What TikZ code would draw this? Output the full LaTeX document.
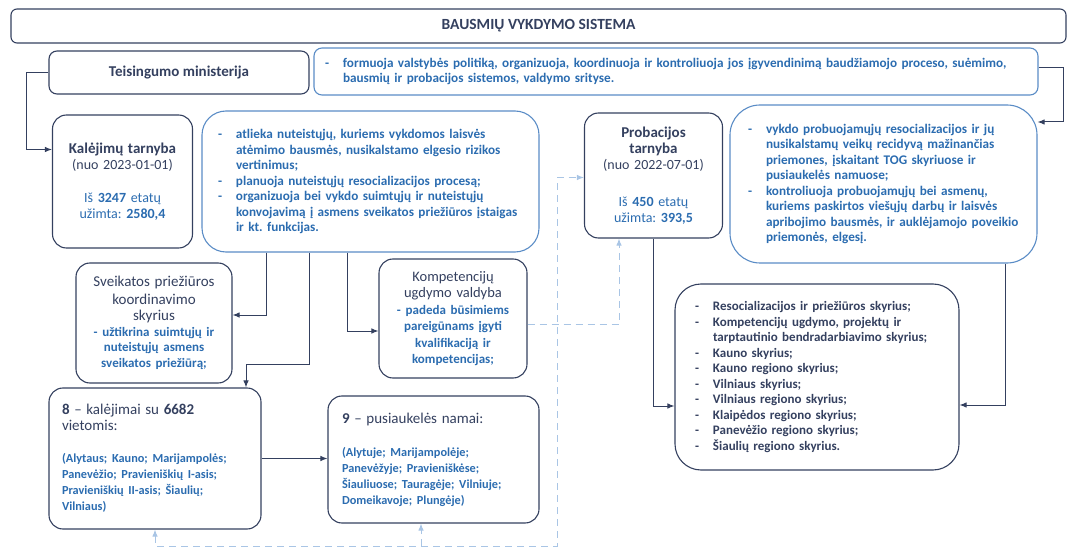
\documentclass[tikz,border=0pt]{standalone}
\usepackage{fontspec}
\setmainfont{Carlito}
\usetikzlibrary{arrows.meta}
\definecolor{navy}{HTML}{34405F}
\definecolor{txtblue}{HTML}{2B6CB0}
\definecolor{bdblue}{HTML}{5A8CC6}
\definecolor{dashblue}{HTML}{A9C5E5}
\newcommand{\dsh}{\makebox[18pt][l]{-}}
\newcommand{\ind}{\hspace*{18pt}}

\begin{document}
\frenchspacing
\begin{tikzpicture}[x=1pt, y=-1pt,
    orgbox/.style={draw=navy, line width=1.1pt, rounded corners=14pt, text=navy,
        align=center, inner sep=0pt, font=\fontsize{14}{16}\selectfont},
    descbox/.style={draw=bdblue, line width=1.1pt, rounded corners=24pt, text=txtblue,
        align=left, inner sep=0pt, font=\bfseries\fontsize{13.2}{15.5}\selectfont},
    link/.style={draw=navy, line width=1pt, -{Latex[length=7pt,width=5.5pt]}},
    dlink/.style={draw=dashblue, line width=1pt, dash pattern=on 7pt off 5pt,
        -{Latex[length=7pt,width=5.5pt]}}]
    \useasboundingbox (0,0) rectangle (1071,548);

    \node[orgbox, minimum width=1055pt, minimum height=34pt, rounded corners=6pt,
        font=\bfseries\fontsize{15.5}{17}\selectfont] (title) at (538.5,26) {BAUSMIŲ VYKDYMO SISTEMA};
    \node[orgbox, minimum width=260pt, minimum height=43pt, rounded corners=8pt,
        font=\bfseries\fontsize{15}{17}\selectfont] (minist) at (179,72.5) {Teisingumo ministerija};
    \node[descbox, rounded corners=8pt, inner xsep=11pt, text width=702pt, minimum height=47pt]
        (mindesc) at (676,71.5)
        {\dsh formuoja valstybės politiką, organizuoja, koordinuoja ir kontroliuoja jos įgyvendinimą baudžiamojo proceso, suėmimo,\\
         \ind bausmių ir probacijos sistemos, valdymo srityse.};

    \node[orgbox, text width=140pt, minimum height=133pt] (kal) at (122.5,181.5)
        {{\bfseries\fontsize{15}{16}\selectfont Kalėjimų tarnyba}\\
         (nuo 2023-01-01)\\[17pt]
         {\color{txtblue}Iš \textbf{3247} etatų\\užimta: \textbf{2580,4}}};
    \node[descbox, inner xsep=16pt, text width=305pt, minimum height=141pt] (kaldesc) at (370.5,181.5)
        {\dsh atlieka nuteistųjų, kuriems vykdomos laisvės\\
         \ind atėmimo bausmės, nusikalstamo elgesio rizikos\\
         \ind vertinimus;\\
         \dsh planuoja nuteistųjų resocializacijos procesą;\\
         \dsh organizuoja bei vykdo suimtųjų ir nuteistųjų\\
         \ind konvojavimą į asmens sveikatos priežiūros įstaigas\\
         \ind ir kt. funkcijas.};

    \node[orgbox, text width=138pt, minimum height=125pt] (prob) at (653.5,175.5)
        {{\bfseries\fontsize{15}{19}\selectfont Probacijos\\tarnyba}\\
         (nuo 2022-07-01)\\[21pt]
         {\color{txtblue}Iš \textbf{450} etatų\\užimta: \textbf{393,5}}};
    \node[descbox, rounded corners=30pt, inner xsep=18pt, text width=271pt, minimum height=158pt]
        (probdesc) at (883.5,184)
        {\dsh vykdo probuojamųjų resocializacijos ir jų\\
         \ind nusikalstamų veikų recidyvą mažinančias\\
         \ind priemones, įskaitant TOG skyriuose ir\\
         \ind pusiaukelės namuose;\\
         \dsh kontroliuoja probuojamųjų bei asmenų,\\
         \ind kuriems paskirtos viešųjų darbų ir laisvės\\
         \ind apribojimo bausmės, ir auklėjamojo poveikio\\
         \ind priemonės, elgesį.};

    \node[orgbox, text width=156pt, minimum height=120pt] (sveik) at (154,323)
        {{\fontsize{15}{18}\selectfont Sveikatos priežiūros\\koordinavimo\\skyrius}\\
         {\color{txtblue}\bfseries\fontsize{13}{15.5}\selectfont - užtikrina suimtųjų ir\\nuteistųjų asmens\\sveikatos priežiūrą;}};
    \node[orgbox, text width=148pt, minimum height=119pt] (komp) at (453,318.5)
        {{\fontsize{14.5}{17.5}\selectfont Kompetencijų\\ugdymo valdyba}\\
         {\color{txtblue}\bfseries\fontsize{13}{16.5}\selectfont - padeda būsimiems\\pareigūnams įgyti\\kvalifikaciją ir\\kompetencijas;}};

    \node[orgbox, align=left, inner xsep=13pt, text width=186pt, minimum height=141pt] (eight) at (155,458.5)
        {{\fontsize{15}{18}\selectfont\textbf{8} – kalėjimai su \textbf{6682}\\vietomis:}\\[16pt]
         {\color{txtblue}\bfseries\fontsize{12.3}{16}\selectfont (Alytaus; Kauno; Marijampolės;\\
         Panevėžio; Pravieniškių I-asis;\\Pravieniškių II-asis; Šiaulių;\\Vilniaus)}};
    \node[orgbox, align=left, inner xsep=14pt, text width=183pt, minimum height=127pt] (nine) at (433.5,459.5)
        {{\fontsize{15}{18}\selectfont\textbf{9} – pusiaukelės namai:}\\[17pt]
         {\color{txtblue}\bfseries\fontsize{12.3}{16}\selectfont (Alytuje; Marijampolėje;\\
         Panevėžyje; Pravieniškėse;\\Šiauliuose; Tauragėje; Vilniuje;\\Domeikavoje; Plungėje)}};

    \node[orgbox, rounded corners=26pt, align=left, inner xsep=20pt, text width=244pt, minimum height=186pt,
        font=\bfseries\fontsize{13}{15.5}\selectfont] (list) at (817,377)
        {\dsh Resocializacijos ir priežiūros skyrius;\\
         \dsh Kompetencijų ugdymo, projektų ir\\
         \ind tarptautinio bendradarbiavimo skyrius;\\
         \dsh Kauno skyrius;\\
         \dsh Kauno regiono skyrius;\\
         \dsh Vilniaus skyrius;\\
         \dsh Vilniaus regiono skyrius;\\
         \dsh Klaipėdos regiono skyrius;\\
         \dsh Panevėžio regiono skyrius;\\
         \dsh Šiaulių regiono skyrius.};

    \draw[link] (minist.west) -- ++(-22,0) |- ([yshift=32pt]kal.west);
    \draw[link] ([yshift=4pt]mindesc.east) -- ++(25,0) |- ([yshift=62pt]probdesc.east);
    \draw[link] ([xshift=-104.5pt]kaldesc.south) |- ([yshift=8pt]sveik.east);
    \draw[link] ([xshift=-61.5pt]kaldesc.south) -- ++(0,112) -| ([xshift=91pt]eight.north);
    \draw[link] ([xshift=-23.5pt]kaldesc.south) |- ([yshift=-12.5pt]komp.west);
    \draw[link] (eight.east) -- (eight.east -| nine.west);
    \draw[link] (prob.south) |- ([yshift=-29pt]list.west);
    \draw[link] ([xshift=121.5pt]probdesc.south) |- ([yshift=-28pt]list.east);

    \coordinate (dcorner) at (557,546);
    \coordinate (nfoot) at ([xshift=-12.5pt]nine.south);
    \draw[dlink] ([yshift=-6pt]komp.east) -| ([xshift=-34.5pt]prob.south);
    \draw[dlink, {Latex[length=7pt,width=5.5pt]}-{Latex[length=7pt,width=5.5pt]}]
        (eight.south) |- (dcorner) |- ([yshift=-2pt]prob.west);
    \draw[dlink] (nfoot |- dcorner) -- (nfoot);
\end{tikzpicture}
\end{document}
